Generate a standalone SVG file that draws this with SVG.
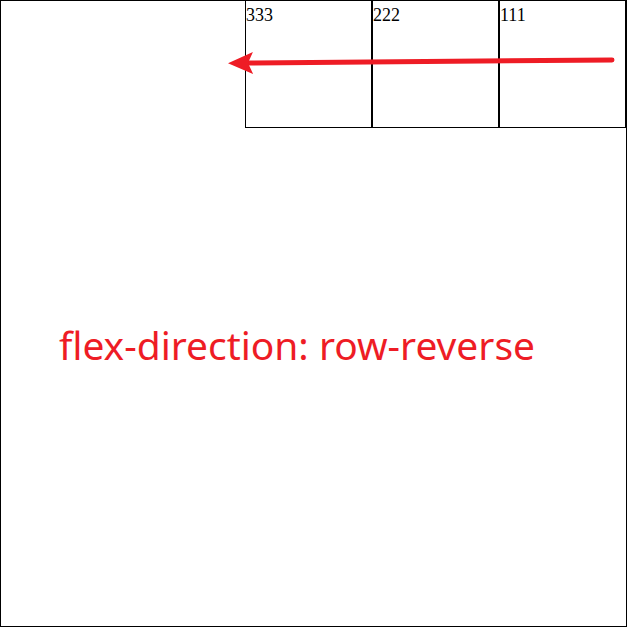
<svg xmlns="http://www.w3.org/2000/svg" width="627" height="627" viewBox="0 0 627 627">
<style>
.cell{fill:#fff;stroke:#000;stroke-width:1}
.num{font-family:"Liberation Serif",serif;font-size:18px;fill:#000}
.arrow{stroke:#ee1c25;stroke-width:5;stroke-linecap:round;fill:none}
.label{font-family:"Noto Sans","Open Sans",sans-serif;font-size:38px;fill:#ee1c25}
</style>
<defs>
<marker id="ah" markerUnits="userSpaceOnUse" markerWidth="26" markerHeight="24" refX="6" refY="12" orient="auto" viewBox="0 0 26 24">
<path d="M25,12 L0,1 L5,12 L0,23 Z" fill="#ee1c25"/>
</marker>
</defs>
<rect x="0.5" y="0.5" width="626" height="626" fill="#fff" stroke="#000" stroke-width="1"/>
<g id="cell-333">
<rect class="cell" x="245.5" y="0.5" width="126" height="127"/>
<text class="num" x="246" y="21">333</text>
</g>
<g id="cell-222">
<rect class="cell" x="372.5" y="0.5" width="126" height="127"/>
<text class="num" x="373" y="21">222</text>
</g>
<g id="cell-111">
<rect class="cell" x="499.5" y="0.5" width="126" height="127"/>
<text class="num" x="500" y="21">111</text>
</g>
<g id="connectors">
<path class="arrow" d="M612,60 L247,63" marker-end="url(#ah)"/>
</g>
<g id="caption">
<text class="label" x="59" y="360" textLength="476" lengthAdjust="spacingAndGlyphs">flex-direction: row-reverse</text>
</g>
</svg>
